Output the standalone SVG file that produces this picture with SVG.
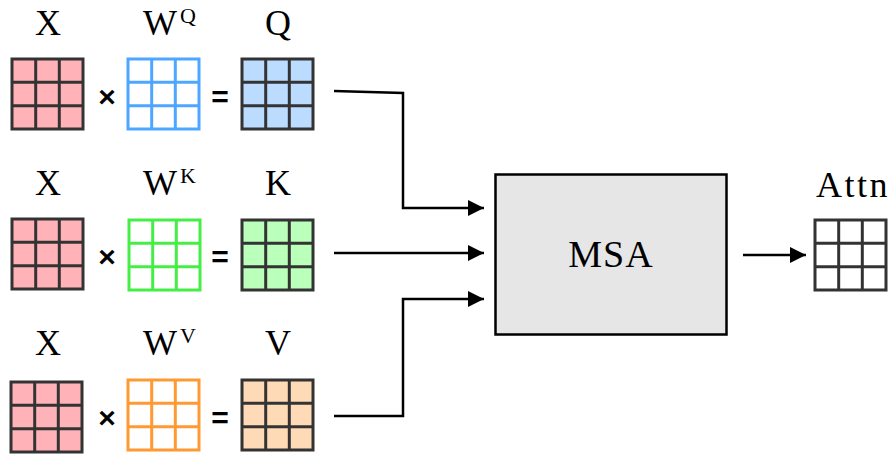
<svg xmlns="http://www.w3.org/2000/svg" xmlns:xlink="http://www.w3.org/1999/xlink" width="891" height="455" viewBox="0 0 891 455">
<style>
.lbl{font-family:"Liberation Serif","DejaVu Serif",serif;font-size:36px;fill:#000;text-anchor:middle}
.w{font-family:"Liberation Serif","DejaVu Serif",serif;font-size:36px;fill:#000}
.sup{font-family:"Liberation Serif","DejaVu Serif",serif;font-size:22px;fill:#000}
.op{font-family:"Liberation Sans","DejaVu Sans",sans-serif;font-size:30px;font-weight:bold;fill:#000;text-anchor:middle}
.conn{fill:none;stroke:#000;stroke-width:2.5}
.x{fill:#ffb3b8;stroke:#333}
.q{fill:#bcdcff;stroke:#333}
.k{fill:#baffba;stroke:#333}
.v{fill:#ffdab6;stroke:#333}
.wq{fill:#fff;stroke:#4da6ff}
.wk{fill:#fff;stroke:#44ee44}
.wv{fill:#fff;stroke:#ff9933}
.at{fill:#fff;stroke:#333}
</style>
<defs>
<g id="grid" stroke-width="3">
<rect x="0" y="0" width="71" height="70"/>
<line x1="23.7" y1="0" x2="23.7" y2="70"/>
<line x1="47.3" y1="0" x2="47.3" y2="70"/>
<line x1="0" y1="23.3" x2="71" y2="23.3"/>
<line x1="0" y1="46.7" x2="71" y2="46.7"/>
</g>
<marker id="ah" viewBox="0 0 10 10" refX="10" refY="5" markerWidth="6.6" markerHeight="6.6" markerUnits="strokeWidth" orient="auto">
<path d="M0,0 L10,5 L0,10 z" fill="#000"/>
</marker>
</defs>
<g id="row-q">
<text class="lbl" x="48" y="35">X</text>
<use xlink:href="#grid" class="x" x="12" y="59"/>
<text class="op" x="107" y="107">×</text>
<text class="w" x="143" y="35">W</text><text class="sup" x="180" y="23">Q</text>
<use xlink:href="#grid" class="wq" x="128" y="59"/>
<text class="op" x="220" y="107">=</text>
<text class="lbl" x="278" y="35">Q</text>
<use xlink:href="#grid" class="q" x="242" y="59"/>
</g>
<g id="row-k">
<text class="lbl" x="48" y="195">X</text>
<use xlink:href="#grid" class="x" x="12" y="219"/>
<text class="op" x="107" y="267">×</text>
<text class="w" x="143" y="195">W</text><text class="sup" x="180" y="183">K</text>
<use xlink:href="#grid" class="wk" x="129" y="220"/>
<text class="op" x="220" y="267">=</text>
<text class="lbl" x="278" y="195">K</text>
<use xlink:href="#grid" class="k" x="242" y="220"/>
</g>
<g id="row-v">
<text class="lbl" x="48" y="355">X</text>
<use xlink:href="#grid" class="x" x="11" y="382"/>
<text class="op" x="107" y="428">×</text>
<text class="w" x="143" y="355">W</text><text class="sup" x="180" y="343">V</text>
<use xlink:href="#grid" class="wv" x="128" y="380"/>
<text class="op" x="220" y="428">=</text>
<text class="lbl" x="278" y="355">V</text>
<use xlink:href="#grid" class="v" x="242" y="380"/>
</g>
<g id="msa">
<rect x="495.5" y="174.5" width="231" height="160" fill="#e6e6e6" stroke="#000" stroke-width="2.5"/>
<text class="lbl" x="611" y="267" style="font-size:38px;letter-spacing:1px">MSA</text>
</g>
<g id="attn">
<text class="lbl" x="853" y="197" style="letter-spacing:2.5px">Attn</text>
<use xlink:href="#grid" class="at" x="815" y="220"/>
</g>
<g id="connectors">
<polyline class="conn" points="334,91 403,93 403,208 484,208" marker-end="url(#ah)"/>
<polyline class="conn" points="334,253 484,253" marker-end="url(#ah)"/>
<polyline class="conn" points="334,416 403,416 403,299 484,299" marker-end="url(#ah)"/>
<polyline class="conn" points="743,255 806,255" marker-end="url(#ah)"/>
</g>
</svg>
